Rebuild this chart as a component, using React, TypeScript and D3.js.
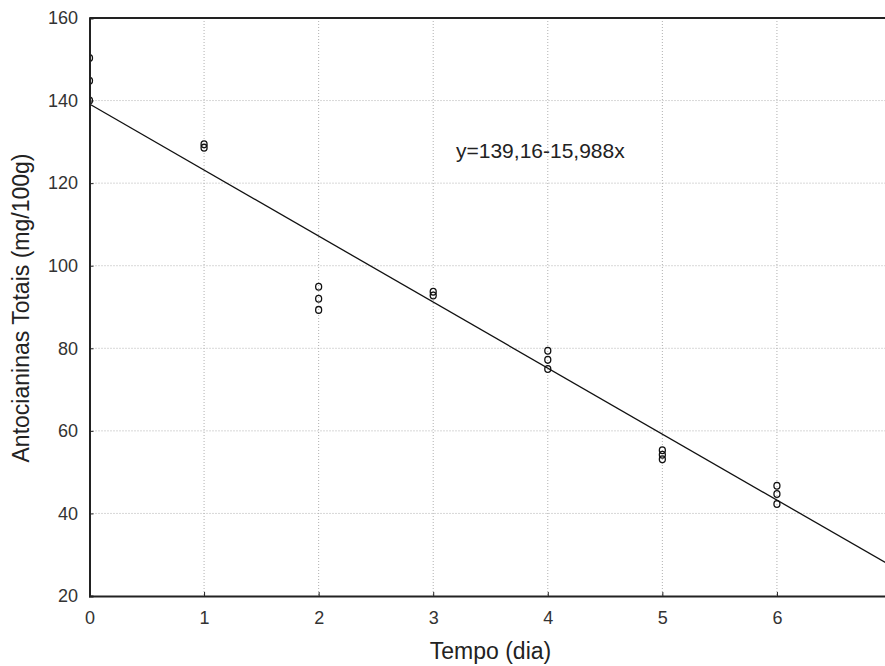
import React, { useEffect, useRef } from "react";
import * as d3 from "d3";

// dias e leituras (mg/100g)
const dayValues = [0, 0, 0, 1, 1, 2, 2, 2, 3, 3, 4, 4, 4, 5, 5, 5, 6, 6, 6];
const antoValues = [150.3, 144.8, 140.0, 129.4, 128.6, 94.9, 92.0, 89.3, 93.7, 92.8, 79.4, 77.2, 75.0, 55.3, 54.2, 53.1, 46.7, 44.7, 42.3];
const xTicks = [0, 1, 2, 3, 4, 5, 6, 7];
const yTicks = [20, 40, 60, 80, 100, 120, 140, 160];
const intercept = 139.16;
const slope = -15.988;
const equationLabel = "y=139,16-15,988x";

const App = () => {
  const svgRef = useRef<SVGSVGElement>(null);

  useEffect(() => {
    const svg = d3.select(svgRef.current);
    svg.selectAll("*").remove();

    const width = 885;
    const height = 666;
    const left = 89.5;
    const top = 18;
    const bottom = 596;
    const right = 891.5;
    const font = "Arial, 'Liberation Sans', sans-serif";

    const x = d3.scaleLinear().domain([0, 7]).range([left, right]);
    const y = d3.scaleLinear().domain([20, 160]).range([bottom, top]);

    svg.attr("width", width).attr("height", height);

    svg
      .append("defs")
      .append("clipPath")
      .attr("id", "plotClip")
      .append("rect")
      .attr("x", left)
      .attr("y", top)
      .attr("width", right - left)
      .attr("height", bottom - top);

    //grid
    const grid = svg.append("g").attr("stroke", "#b0b0b0").attr("stroke-dasharray", "1,2").attr("stroke-width", 1);
    xTicks.slice(1, -1).forEach((t) => {
      grid.append("line").attr("x1", x(t)).attr("x2", x(t)).attr("y1", top).attr("y2", bottom);
    });
    yTicks.slice(1, -1).forEach((t) => {
      grid.append("line").attr("x1", left).attr("x2", right).attr("y1", y(t)).attr("y2", y(t));
    });

    //regression line
    const line = d3
      .line<number>()
      .x((d) => x(d))
      .y((d) => y(intercept + slope * d));
    svg
      .append("path")
      .datum([0, 7])
      .attr("clip-path", "url(#plotClip)")
      .attr("fill", "none")
      .attr("stroke", "#111")
      .attr("stroke-width", 1.3)
      .attr("d", line);

    //points
    svg
      .append("g")
      .attr("clip-path", "url(#plotClip)")
      .selectAll("ellipse")
      .data(dayValues.map((d, i) => ({ d, v: antoValues[i] })))
      .enter()
      .append("ellipse")
      .attr("cx", (p) => x(p.d))
      .attr("cy", (p) => y(p.v))
      .attr("rx", 3)
      .attr("ry", 3.4)
      .attr("fill", "none")
      .attr("stroke", "#111")
      .attr("stroke-width", 1.3);

    //axes (ticks inward)
    const xAxis = svg
      .append("g")
      .attr("transform", `translate(0, ${bottom})`)
      .call(d3.axisBottom(x).tickValues(xTicks).tickSize(-4).tickPadding(15).tickFormat(d3.format("d")));
    xAxis.select(".domain").attr("stroke", "#222").attr("stroke-width", 2);
    xAxis.selectAll(".tick line").attr("stroke", "#222");

    const yAxis = svg
      .append("g")
      .attr("transform", `translate(${left}, 0)`)
      .call(d3.axisLeft(y).tickValues(yTicks).tickSize(-4).tickPadding(11.5).tickFormat(d3.format("d")));
    yAxis.select(".domain").attr("stroke", "#222").attr("stroke-width", 2);
    yAxis.selectAll(".tick line").attr("stroke", "#222");

    svg
      .selectAll(".tick text")
      .attr("fill", "#333")
      .style("font-family", font)
      .style("font-size", "18px");

    //top frame
    svg
      .append("line")
      .attr("x1", left)
      .attr("x2", right)
      .attr("y1", top)
      .attr("y2", top)
      .attr("stroke", "#222")
      .attr("stroke-width", 2);

    //equation
    svg
      .append("text")
      .attr("x", 456)
      .attr("y", 158)
      .attr("fill", "#222")
      .style("font-family", font)
      .style("font-size", "21px")
      .text(equationLabel);

    //axis titles
    svg
      .append("text")
      .attr("x", (x(0) + x(7)) / 2)
      .attr("y", 659)
      .attr("text-anchor", "middle")
      .attr("fill", "#222")
      .style("font-family", font)
      .style("font-size", "23px")
      .text("Tempo (dia)");

    svg
      .append("text")
      .attr("transform", "rotate(-90)")
      .attr("x", -308)
      .attr("y", 29)
      .attr("text-anchor", "middle")
      .attr("fill", "#222")
      .style("font-family", font)
      .style("font-size", "23px")
      .text("Antocianinas Totais (mg/100g)");
  }, []);

  return (
    <div style={{ position: "absolute", left: 0, top: 0, width: 885, height: 666, overflow: "hidden", background: "#fff" }}>
      <svg ref={svgRef} style={{ display: "block" }} />
    </div>
  );
};

export default App;
